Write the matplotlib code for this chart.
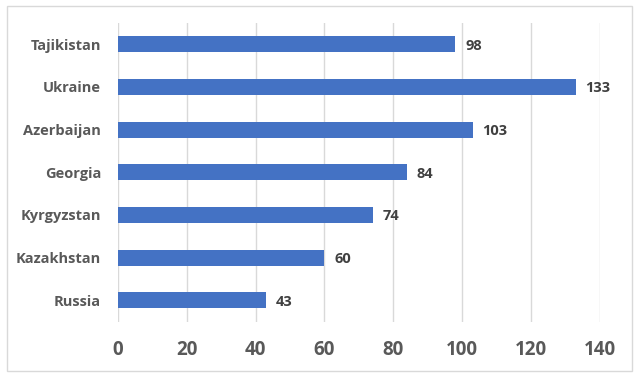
import matplotlib.pyplot as plt
from matplotlib.patches import Rectangle

countries = ['Russia', 'Kazakhstan', 'Kyrgyzstan', 'Georgia', 'Azerbaijan', 'Ukraine', 'Tajikistan']
values = [43, 60, 74, 84, 103, 133, 98]
xticks = [0, 20, 40, 60, 80, 100, 120, 140]

plt.rcParams['font.family'] = ['Open Sans', 'DejaVu Sans']

fig = plt.figure(figsize=(6.4, 3.81), dpi=100)
ax = fig.add_axes([0.184, 0.156, 0.7535, 0.784])

ypos = list(range(len(countries)))
ax.barh(ypos, values, height=0.375, color='#4472C4', zorder=3)

for y, v in zip(ypos, values):
    ax.annotate(str(v), (v, y), xytext=(7, -1), textcoords='offset points',
                va='center', ha='left', fontsize=10.5,
                fontweight='bold', color='#404040')

ax.set_xlim(0, 140)
ax.set_ylim(-0.5, len(countries) - 0.5)
ax.set_xticks(xticks)
ax.set_yticks(ypos)
ax.set_yticklabels(countries, fontsize=10.5, fontweight='bold', color='#595959')
ax.set_xticklabels([str(t) for t in xticks], fontsize=13.5, fontweight='bold', color='#595959')
ax.tick_params(axis='both', length=0)
ax.tick_params(axis='y', pad=12)
ax.tick_params(axis='x', pad=13)
ax.grid(axis='x', color='#D9D9D9', linewidth=1, zorder=0)
for s in ax.spines.values():
    s.set_visible(False)

# chart border
fig.patches.append(Rectangle((7 / 640, 10 / 381), 625 / 640, 365 / 381,
                             transform=fig.transFigure, fill=False,
                             edgecolor='#D9D9D9', linewidth=1))

fig.savefig('out.png', dpi=100)
